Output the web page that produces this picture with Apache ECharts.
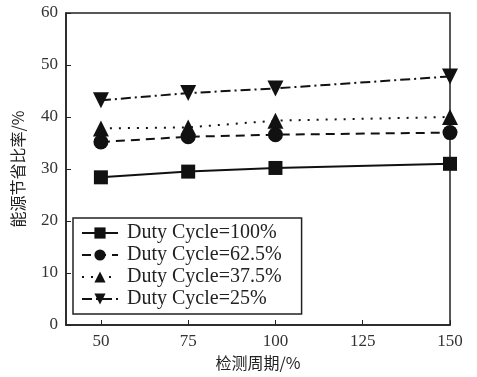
<!DOCTYPE html>
<html><head><meta charset="utf-8">
<script src="https://cdn.jsdelivr.net/npm/echarts@6/dist/echarts.min.js"></script>
<style>html,body{margin:0;padding:0;background:#fff}#c{width:477px;height:377px}</style>
</head><body><div id="c"></div>
<script>
const periods = [50, 75, 100, 150];
const names = ['Duty Cycle=100%', 'Duty Cycle=62.5%', 'Duty Cycle=37.5%', 'Duty Cycle=25%'];
const dc100 = [28.4, 29.5, 30.2, 31.0];
const dc625 = [35.2, 36.2, 36.6, 37.0];
const dc375 = [37.8, 38.0, 39.3, 40.0];
const dc25 = [43.2, 44.6, 45.5, 47.8];
const xTicks = [50, 75, 100, 125, 150];
const yTicks = [0, 10, 20, 30, 40, 50, 60];

const serif = '"Liberation Serif", "DejaVu Serif", serif';
const cjk = '"Noto Sans CJK SC", "Liberation Serif", serif';
const series = [
  {data: dc100, symbol: 'rect', rotate: 0, type: 'solid', size: 14},
  {data: dc625, symbol: 'circle', rotate: 0, type: [9, 6], size: 15},
  {data: dc375, symbol: 'triangle', rotate: 0, type: [2, 7], size: 16},
  {data: dc25, symbol: 'triangle', rotate: 180, type: [10, 4, 2, 4], size: 16}
].map((s, i) => ({
  name: names[i], type: 'line',
  data: periods.map((p, j) => [p, s.data[j]]),
  symbol: s.symbol, symbolSize: s.size, symbolRotate: s.rotate,
  lineStyle: {color: '#111', width: 2, type: s.type},
  itemStyle: {color: '#111'}
}));

const chart = echarts.init(document.getElementById('c'));
chart.setOption({
  animation: false,
  grid: {left: 66, right: 27, top: 13, bottom: 52, show: true, borderColor: '#222', borderWidth: 1.5, backgroundColor: 'transparent'},
  xAxis: {
    type: 'value', min: 40, max: 150,
    name: '检测周期/%', nameLocation: 'middle', nameGap: 30,
    nameTextStyle: {fontFamily: cjk, fontSize: 16, color: '#222'},
    axisLine: {lineStyle: {color: '#222', width: 1.5}},
    axisTick: {inside: true, length: 5, customValues: xTicks, lineStyle: {color: '#222'}},
    axisLabel: {fontFamily: serif, fontSize: 17, color: '#333', customValues: xTicks},
    splitLine: {show: false}
  },
  yAxis: {
    type: 'value', min: 0, max: 60, interval: 10,
    name: '能源节省比率/%', nameLocation: 'middle', nameGap: 40,
    nameTextStyle: {fontFamily: cjk, fontSize: 16, color: '#222'},
    axisLine: {lineStyle: {color: '#222', width: 1.5}},
    axisTick: {inside: true, length: 5, lineStyle: {color: '#222'}},
    axisLabel: {fontFamily: serif, fontSize: 17, color: '#333',
      formatter: v => yTicks.includes(v) ? String(v) : ''},
    splitLine: {show: false}
  },
  legend: {
    orient: 'vertical', left: 73, top: 218,
    itemWidth: 36, itemHeight: 14, itemGap: 2,
    padding: [5, 20, 5, 8],
    borderColor: '#222', borderWidth: 1.5, backgroundColor: '#fff',
    textStyle: {fontFamily: serif, fontSize: 20, color: '#222', padding: [0, 0, 0, 4]},
    data: names
  },
  series: series
});
</script></body></html>
